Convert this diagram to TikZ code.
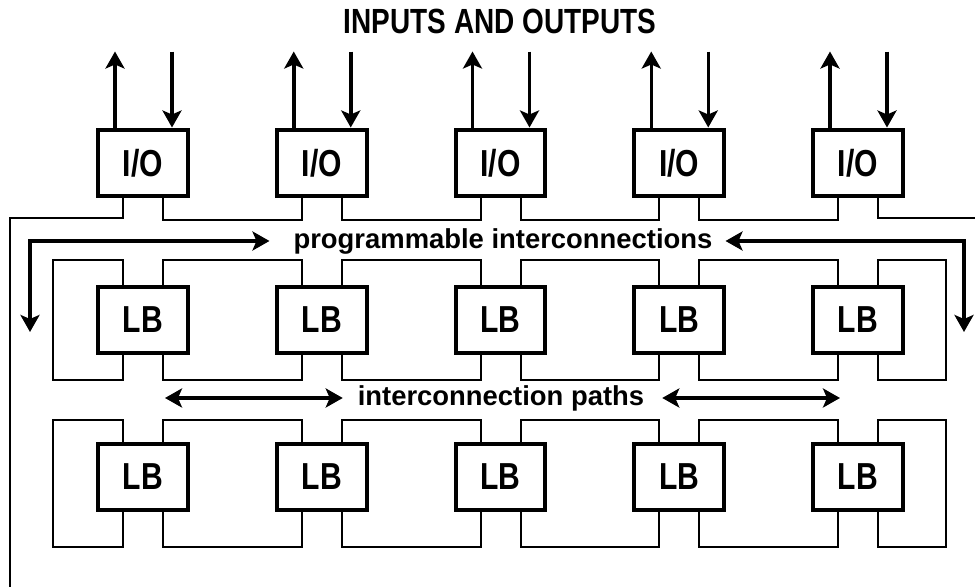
\documentclass[tikz,border=0pt]{standalone}
\usepackage{fontspec}
\setmainfont{Liberation Sans}
\newfontfamily\capfont[FakeStretch=0.8]{Liberation Sans}
\usetikzlibrary{arrows.meta,calc}

\begin{document}
\begin{tikzpicture}[x=0.02cm,y=-0.02cm,every node/.style={inner sep=1pt},
  blk/.style={draw,line width=0.08cm,minimum width=1.8cm,minimum height=1.34cm,
    font=\capfont\bfseries\fontsize{21.4}{24}\selectfont},
  wire/.style={line width=0.04cm},
  arr/.style={line width=0.07cm,-{Stealth[length=0.34cm,width=0.38cm,inset=0.08cm]}},
  darr/.style={line width=0.07cm,
    {Stealth[length=0.34cm,width=0.38cm,inset=0.08cm]}-{Stealth[length=0.34cm,width=0.38cm,inset=0.08cm]}},
  lbl/.style={font=\bfseries\fontsize{15.6}{18}\selectfont}]
\useasboundingbox (0,0) rectangle (975,587);
\node[font=\capfont\bfseries\fontsize{19.9}{22}\selectfont] (title) at (500,21) {INPUTS AND OUTPUTS};
% blocks
\foreach \i in {1,...,5} {
  \node[blk] (io\i) at ({143+178.75*(\i-1)},163) {I/O};
  \node[blk] (lba\i) at ({143+178.75*(\i-1)},320) {LB};
  \node[blk] (lbb\i) at ({143+178.75*(\i-1)},477) {LB};
  \coordinate (up\i) at ($(io\i.north)+(-28,-76)$);
  \coordinate (dn\i) at ($(io\i.north)+(29,-76)$);
  \draw[arr] (up\i |- io\i.north) -- (up\i);
  \draw[arr] (dn\i) -- (dn\i |- io\i.north);
}
% I/O bus
\coordinate (edgeL) at (10,587);
\coordinate (edgeR) at (975,218);
\foreach \a/\b in {1/2,2/3,3/4,4/5}
  \draw[wire] ($(io\a.south)+(20,0)$) -- ++(0,21.3) -| ($(io\b.south)+(-20,0)$);
\draw[wire] ($(io1.south)+(-20,0)$) |- (10,218) -- (edgeL);
\draw[wire] ($(io5.south)+(20,0)$) |- (edgeR);
% LB rows
\foreach \r/\gapt/\gapb in {a/24.7/24.7,b/21.3/34.7} {
  \foreach \a/\b in {1/2,2/3,3/4,4/5} {
    \draw[wire] ($(lb\r\a.north)+(20,0)$) -- ++(0,-\gapt) -| ($(lb\r\b.north)+(-20,0)$);
    \draw[wire] ($(lb\r\a.south)+(20,0)$) -- ++(0,\gapb) -| ($(lb\r\b.south)+(-20,0)$);
  }
  \draw[wire] ($(lb\r1.north)+(-20,0)$) -- ++(0,-\gapt) -- ++(-70,0)
    |- ($(lb\r1.south)+(-20,\gapb)$) -- ($(lb\r1.south)+(-20,0)$);
  \draw[wire] ($(lb\r5.north)+(20,0)$) -- ++(0,-\gapt) -- ++(68,0)
    |- ($(lb\r5.south)+(20,\gapb)$) -- ($(lb\r5.south)+(20,0)$);
}
% labels
\node[lbl] (prog) at (503,241) {programmable interconnections};
\coordinate (progL) at (30,332);
\coordinate (progR) at (964,332);
\draw[darr] ([xshift=-0.44cm]prog.west) -| (progL);
\draw[darr] ([xshift=0.22cm]prog.east) -| (progR);
\node[lbl] (paths) at (501,398) {interconnection paths};
\coordinate (pathL) at (165,398);
\coordinate (pathR) at (840,398);
\draw[darr] (pathL) -- ([xshift=-0.26cm]paths.west);
\draw[darr] ([xshift=0.32cm]paths.east) -- (pathR);
\end{tikzpicture}
\end{document}
